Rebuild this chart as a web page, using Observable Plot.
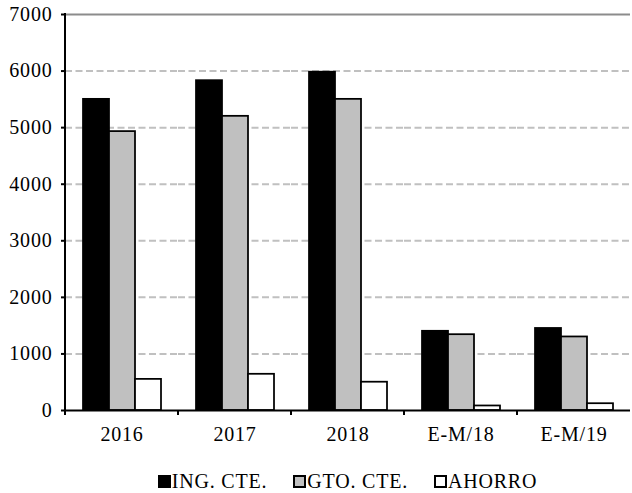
<!DOCTYPE html>
<html>
<head>
<meta charset="utf-8">
<script src="https://cdn.jsdelivr.net/npm/d3@7"></script>
<script src="https://cdn.jsdelivr.net/npm/@observablehq/plot@0.6"></script>
<style>
  body { margin: 0; background: #fff; }
  #chart { width: 632px; height: 493px; position: relative; font-family: "Liberation Serif", Tinos, "Times New Roman", "DejaVu Serif", serif; color: #000; }
  #chart svg, #chart svg text { font-family: "Liberation Serif", Tinos, "Times New Roman", "DejaVu Serif", serif !important; letter-spacing: 0.8px; }
  .legend { display: flex; justify-content: center; padding-left: 63px; box-sizing: border-box; width: 632px;
            font-size: 20px; line-height: 20px; letter-spacing: 0.8px; margin-top: 19px; }
  .legend .item { display: inline-flex; align-items: baseline; margin: 0 13px; white-space: nowrap; }
  .legend .sw { display: inline-block; width: 9px; height: 9px; border: 2px solid #000; margin-right: 1px; }
</style>
</head>
<body>
<div id="chart"></div>
<script>
const categories = ["2016", "2017", "2018", "E-M/18", "E-M/19"];
const series = ["ING. CTE.", "GTO. CTE.", "AHORRO"];
const ingCte = [5500, 5830, 5980, 1400, 1450];
const gtoCte = [4930, 5200, 5500, 1340, 1300];
const ahorro = [550, 640, 500, 80, 120];
const seriesColors = ["#000000", "#c0c0c0", "#ffffff"];
const yTicks = [0, 1000, 2000, 3000, 4000, 5000, 6000, 7000];

const seriesValues = [ingCte, gtoCte, ahorro];
const data = categories.flatMap((c, i) =>
  series.map((s, j) => ({ category: c, series: s, value: seriesValues[j][i] }))
);

const plot = Plot.plot({
  width: 632,
  height: 452,
  marginTop: 14,
  marginBottom: 42,
  marginLeft: 63,
  marginRight: 0,
  style: { fontSize: "20px", color: "#000", background: "#fff", overflow: "visible" },
  fx: { domain: categories, paddingInner: 0, paddingOuter: 0, label: null, axis: null },
  x: { domain: series, paddingInner: 0, paddingOuter: 0.66, axis: null },
  y: { domain: [0, 7000], label: null, axis: null },
  color: { domain: series, range: seriesColors },
  marks: [
    Plot.ruleY(yTicks.filter(v => v > 0 && v < 7000), { stroke: "#c0c0c0", strokeWidth: 2, strokeDasharray: "7,3.5" }),
    Plot.ruleY([7000], { stroke: "#8c8c8c", strokeWidth: 2 }),
    Plot.barY(data, { fx: "category", x: "series", y: "value", fill: "series", stroke: "#000", strokeWidth: 1.75 }),
    Plot.ruleY([0], { stroke: "#000", strokeWidth: 2 }),
    Plot.axisY({ ticks: yTicks, tickSize: 4, tickPadding: 9, tickFormat: d => String(d), label: null, strokeWidth: 2 }),
    Plot.axisFx({ anchor: "bottom", tickSize: 0, tickPadding: 16, label: null })
  ]
});

// axis line and category-boundary ticks, placed with the plot's own scales
const fx = plot.scale("fx");
const y = plot.scale("y");
const svg = d3.select(plot);
const y0 = y.apply(0);
const yTop = y.apply(7000);
const starts = categories.map(c => fx.apply(c));
svg.append("line")
  .attr("x1", starts[0]).attr("x2", starts[0])
  .attr("y1", yTop - 1).attr("y2", y0 + 1)
  .attr("stroke", "#000").attr("stroke-width", 2);
svg.append("g").selectAll("line").data(starts).join("line")
  .attr("x1", d => d).attr("x2", d => d)
  .attr("y1", y0).attr("y2", y0 + 5)
  .attr("stroke", "#000").attr("stroke-width", 2);

const chart = document.getElementById("chart");
chart.appendChild(plot);

const legend = document.createElement("div");
legend.className = "legend";
series.forEach((s, i) => {
  const item = document.createElement("span");
  item.className = "item";
  const sw = document.createElement("span");
  sw.className = "sw";
  sw.style.background = seriesColors[i];
  const t = document.createElement("span");
  t.textContent = s;
  item.appendChild(sw);
  item.appendChild(t);
  legend.appendChild(item);
});
chart.appendChild(legend);
</script>
</body>
</html>
